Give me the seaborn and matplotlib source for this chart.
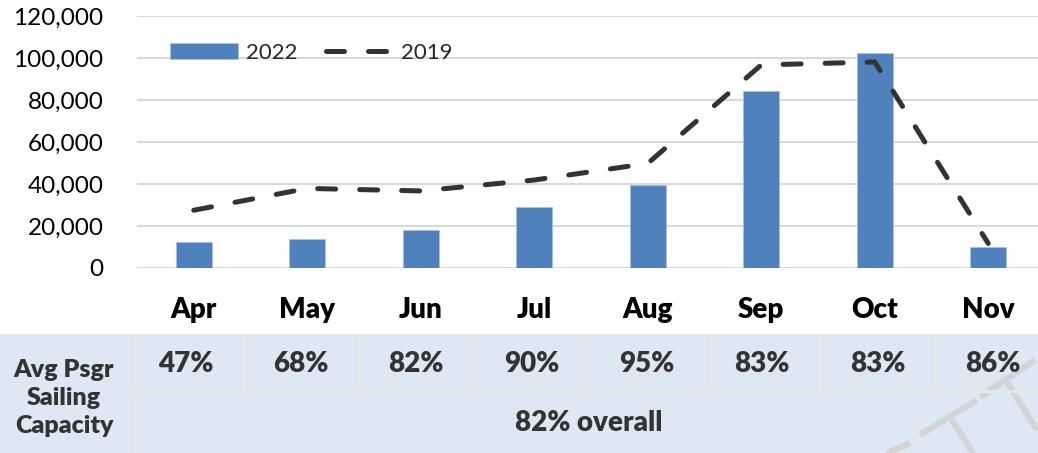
"""Monthly passengers 2022 vs 2019 with sailing capacity table"""

import numpy as np
import pandas as pd
import matplotlib
matplotlib.use("Agg")
import matplotlib.pyplot as plt
from matplotlib.patches import Rectangle
from matplotlib.lines import Line2D
from matplotlib.ticker import FuncFormatter
import seaborn as sns

# Data
months = ["Apr", "May", "Jun", "Jul", "Aug", "Sep", "Oct", "Nov"]
psgr_2022 = [12300, 13700, 18100, 29200, 39400, 84400, 102500, 10200]
psgr_2019 = [27500, 37900, 36700, 41900, 49800, 96700, 98100, 11700]
capacity = ["47%", "68%", "82%", "90%", "95%", "83%", "83%", "86%"]
overall = "82% overall"
row_label = "Avg Psgr\nSailing\nCapacity"

W, H = 1038, 453
BLUE = "#4f81bd"
DARK = "#333333"
FILL = "#dde8f4"
SEP = "#e6e7ea"
BOLD = "heavy"

sns.set_style("white")
plt.rcParams['font.family'] = ['Lato', 'DejaVu Sans']

df = pd.DataFrame({"month": months, "y2022": psgr_2022, "y2019": psgr_2019})
df["pos"] = np.arange(len(df))

fig = plt.figure(figsize=(W / 100, H / 100), dpi=100)
ax = fig.add_axes([137 / W, (H - 268) / H, 908 / W, 252 / H])

sns.barplot(data=df, x="month", y="y2022", color=BLUE, width=0.32,
            saturation=1, label="2022", ax=ax, zorder=2,
            edgecolor="#a9c1e0", linewidth=0.6)
sns.lineplot(data=df, x="pos", y="y2019", color=DARK, linewidth=3.6,
             linestyle=(0, (3.6, 4.8)), dash_capstyle="round",
             dash_joinstyle="round", label="2019", ax=ax, zorder=3)

ax.set_xlim(-0.5, len(months) - 0.5)
ax.set_ylim(0, 120000)
ax.set_yticks(range(0, 120001, 20000))
ax.yaxis.set_major_formatter(FuncFormatter(lambda v, p: f"{v:,.0f}"))
ax.grid(axis="y", color="#d9d9d9", linewidth=1.5, zorder=0)
ax.set_axisbelow(True)
ax.set_xlabel("")
ax.set_ylabel("")
ax.set_xticks(range(len(months)))
ax.set_xticklabels(months, fontsize=20, fontweight=BOLD, color="black")
ax.tick_params(axis="x", length=0, pad=21)
ax.tick_params(axis="y", length=0, pad=24, labelsize=17.5, labelcolor="black")
for s in ax.spines.values():
    s.set_visible(False)

handles, labels = ax.get_legend_handles_labels()
order = [labels.index("2022"), labels.index("2019")]
ax.legend([handles[i] for i in order], [labels[i] for i in order],
          loc="center left", bbox_to_anchor=(170 / W, 1 - 53 / H),
          bbox_transform=fig.transFigure, ncol=2, frameon=False,
          fontsize=16, handlelength=3.05, handletextpad=0.35,
          columnspacing=1.3, borderpad=0, borderaxespad=0)

# capacity table underneath
fig.patches.append(Rectangle((0, 0), 1, 119 / H, transform=fig.transFigure,
                             facecolor=FILL, edgecolor="none", zorder=-1))
tab = fig.add_axes([128 / W, 0, 8 * 115.3 / W, 119 / H])
tab.set_zorder(2)
tab.set_xlim(-0.5, len(months) - 0.5)
tab.set_ylim(0, 119)
tab.axis("off")
tab.axvline(-0.5, color=SEP, linewidth=2.2)
for i in range(len(months) - 1):
    tab.axvline(i + 0.5, ymin=62 / 119, ymax=1, color=SEP, linewidth=2.2)
tab.axhline(62, color=SEP, linewidth=2.2)
for i, c in enumerate(capacity):
    tab.text(i, 89, c, ha="center", va="center", fontsize=20,
             fontweight=BOLD, color=DARK)
tab.text((len(months) - 1) / 2, 30, overall, ha="center", va="center",
         fontsize=20, fontweight=BOLD, color=DARK)
fig.text(64 / W, 1 - 398 / H, row_label, ha="center", va="center",
         fontsize=18, fontweight=BOLD, color=DARK, linespacing=1.35)

# faint watermark strokes at bottom right
for (x0, y0), (x1, y1) in [((887, 453), (910, 443)), ((920, 435), (977, 400)),
                           ((980, 397), (1035, 360)), ((952, 420), (973, 453)),
                           ((1007, 382), (1037, 430))]:
    fig.add_artist(Line2D([x0 / W, x1 / W], [1 - y0 / H, 1 - y1 / H],
                          transform=fig.transFigure, color="#d4d4d4",
                          linewidth=4.5, solid_capstyle="butt", zorder=1))

fig.savefig("out.png", dpi=100)
